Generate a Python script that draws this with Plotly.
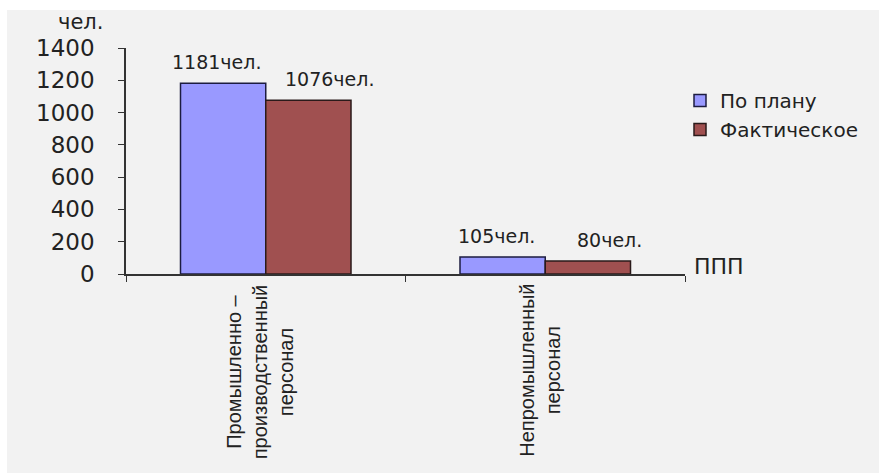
import plotly.graph_objects as go

# Staff headcount: planned vs actual
categories = ["Промышленно – производственный персонал", "Непромышленный персонал"]
category_labels = ["Промышленно –<br>производственный<br>персонал", "Непромышленный<br>персонал"]
plan_values = [1181, 105]
actual_values = [1076, 80]
series_names = ["По плану", "Фактическое"]
y_ticks = [0, 200, 400, 600, 800, 1000, 1200, 1400]

W, H = 879, 473
L, R, T, B = 126, 194, 48, 199
pw, ph = W - L - R, H - T - B


def px_x(p):
    return (p - L) / pw


def px_y(p):
    return (H - B - p) / ph


text_color = "#222222"
num_font = "DejaVu Sans"

fig = go.Figure()
fig.add_trace(go.Bar(
    x=categories, y=plan_values, name=series_names[0],
    marker=dict(color="#9999ff", line=dict(color="#1c1c40", width=1.5)),
))
fig.add_trace(go.Bar(
    x=categories, y=actual_values, name=series_names[1],
    marker=dict(color="#a05050", line=dict(color="#2a1a1a", width=1.5)),
))

annotations = [
    dict(text="чел.", x=px_x(80), y=px_y(22), xref="paper", yref="paper",
         xanchor="center", yanchor="middle", showarrow=False,
         font=dict(family=num_font, size=21, color=text_color)),
    dict(text="ППП", x=px_x(692), y=px_y(266), xref="paper", yref="paper",
         xanchor="left", yanchor="middle", showarrow=False,
         font=dict(family=num_font, size=22, color=text_color)),
]

# value labels above each bar (pixel shifts place them over the grouped bars)
for values, dx in ((plan_values, -49), (actual_values, 64)):
    for cat, v in zip(categories, values):
        annotations.append(dict(
            text=f"{v}чел.", x=cat, xref="x", y=v, yref="y",
            xanchor="center", yanchor="middle", xshift=dx, yshift=21,
            showarrow=False,
            font=dict(family=num_font, size=19, color=text_color),
        ))

for cat, lab in zip(categories, category_labels):
    annotations.append(dict(
        text=lab, x=cat, xref="x", y=px_y(282), yref="paper",
        xanchor="center", yanchor="top", textangle=-90, align="center",
        showarrow=False, xshift=-6,
        font=dict(family="Liberation Sans", size=20, color=text_color),
    ))

fig.update_layout(
    width=W, height=H,
    margin=dict(l=L, r=R, t=T, b=B, pad=0),
    paper_bgcolor="white",
    plot_bgcolor="rgba(0,0,0,0)",
    barmode="group", bargap=0.39, bargroupgap=0,
    showlegend=True,
    legend=dict(x=px_x(680), y=px_y(81), xanchor="left", yanchor="top",
                font=dict(family=num_font, size=20, color=text_color),
                bgcolor="rgba(0,0,0,0)", itemwidth=30, tracegroupgap=6),
    shapes=[dict(type="rect", xref="paper", yref="paper",
                 x0=px_x(7), x1=px_x(W + 5), y0=px_y(H + 5), y1=px_y(10),
                 fillcolor="#f2f2f2", line=dict(width=0), layer="below")],
    annotations=annotations,
)
fig.update_xaxes(
    type="category", showline=True, linecolor="#333333", linewidth=1.5,
    ticks="outside", tickson="boundaries", ticklen=6, tickcolor="#333333",
    showticklabels=False, showgrid=False, zeroline=False,
)
fig.update_yaxes(
    range=[0, 1400], tickvals=y_ticks, showline=True, linecolor="#333333",
    linewidth=1.5, ticks="outside", ticklen=6, tickcolor="#333333",
    ticklabelstandoff=19, showgrid=False, zeroline=False,
    tickfont=dict(family=num_font, size=23, color=text_color),
)

fig.write_html("out.html")
